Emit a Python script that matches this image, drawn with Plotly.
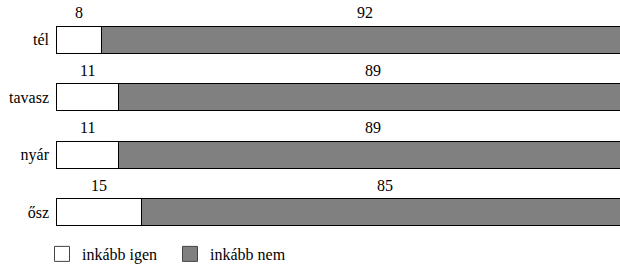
import plotly.graph_objects as go

categories = ["tél", "tavasz", "nyár", "ősz"]
igen = [8, 11, 11, 15]
nem = [92, 89, 89, 85]
series_names = ["inkább igen", "inkább nem"]
series_colors = ["white", "#808080"]

FONT = "Liberation Serif, Times New Roman, serif"
FS = 16

fig = go.Figure()
for vals, name, col in zip([igen, nem], series_names, series_colors):
    fig.add_trace(go.Bar(y=categories, x=vals, orientation="h", name=name, showlegend=False,
                         marker=dict(color=col, line=dict(color="black", width=1))))
# legend entries with larger square swatches
for name, col in zip(series_names, series_colors):
    fig.add_trace(go.Scatter(x=[None], y=[None], mode="markers", name=name,
                             marker=dict(symbol="square", size=15, color=col,
                                         line=dict(color="#444444", width=1))))

annotations = []
for cat, a, b in zip(categories, igen, nem):
    annotations.append(dict(x=a / 2, y=cat, text=str(a), showarrow=False, yshift=27,
                            font=dict(family=FONT, size=FS, color="black")))
    annotations.append(dict(x=a + b / 2, y=cat, text=str(b), showarrow=False, yshift=27,
                            font=dict(family=FONT, size=FS, color="black")))

fig.update_layout(
    barmode="stack",
    bargap=0.53,
    width=620, height=267,
    margin=dict(l=56, r=0, t=11, b=26, pad=0, autoexpand=False),
    paper_bgcolor="white", plot_bgcolor="white",
    font=dict(family=FONT, size=FS, color="black"),
    xaxis=dict(range=[0, 98.6], visible=False, fixedrange=True),
    yaxis=dict(categoryorder="array", categoryarray=categories, range=[3.5, -0.5],
               autorange=False, showgrid=False, zeroline=False, showline=False, ticks="",
               ticklabelstandoff=6, fixedrange=True,
               tickfont=dict(family=FONT, size=FS, color="black")),
    showlegend=True,
    legend=dict(orientation="h", xref="paper", yref="paper",
                x=-14 / 564, y=-13 / 230, xanchor="left", yanchor="middle",
                font=dict(family=FONT, size=FS, color="black"), entrywidth=83,
                traceorder="normal", itemsizing="trace", bgcolor="rgba(0,0,0,0)"),
    annotations=annotations,
)

fig.write_html("out.html", config={"displayModeBar": False},
               post_script="document.body.style.margin='0';document.body.style.padding='0';")
